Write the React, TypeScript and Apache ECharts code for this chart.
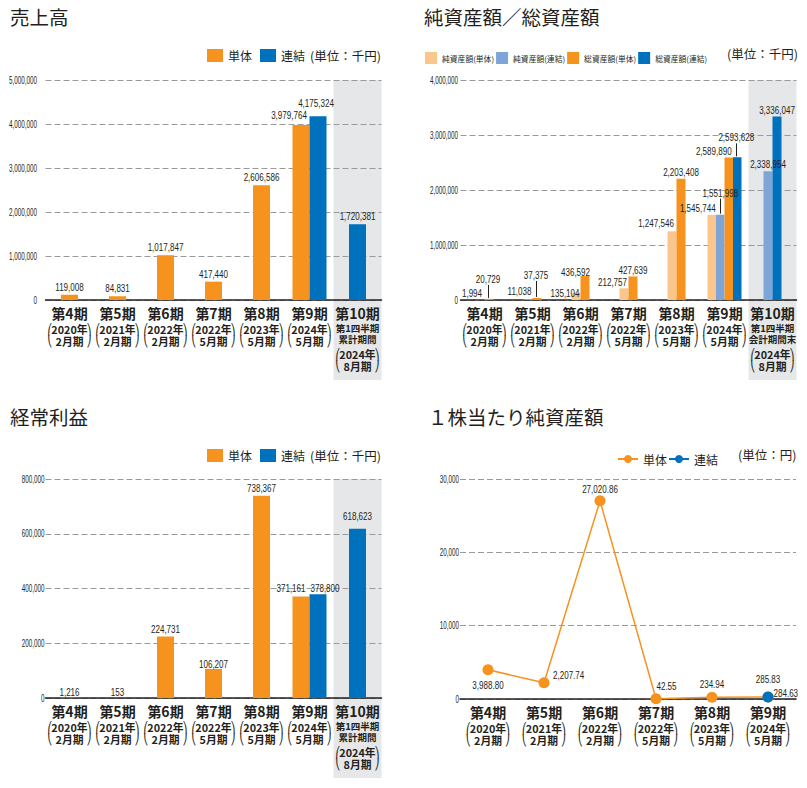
import React, { useEffect, useRef } from 'react';
import * as echarts from 'echarts';

// ---------------- data ----------------
const periods = ['第4期', '第5期', '第6期', '第7期', '第8期', '第9期', '第10期'];
const fiscalYears = ['2020年', '2021年', '2022年', '2022年', '2023年', '2024年', '2024年'];
const fiscalMonths = ['2月期', '2月期', '2月期', '5月期', '5月期', '5月期', '8月期'];
const quarterNoteFlow = ['第1四半期', '累計期間'];
const quarterNoteStock = ['第1四半期', '会計期間末'];

const salesSolo = [119008, 84831, 1017847, 417440, 2606586, 3979764, null];
const salesConsol = [null, null, null, null, null, 4175324, 1720381];

const ordinarySolo = [1216, 153, 224731, 106207, 738367, 371161, null];
const ordinaryConsol = [null, null, null, null, null, 378800, 618623];

const netAssetsSolo = [1994, 11038, 135104, 212757, 1247546, 1545744, null];
const netAssetsConsol = [null, null, null, null, null, 1551998, 2338954];
const totalAssetsSolo = [20729, 37375, 436592, 427639, 2203408, 2589890, null];
const totalAssetsConsol = [null, null, null, null, null, 2593628, 3336047];

const bpsPeriods = ['第4期', '第5期', '第6期', '第7期', '第8期', '第9期'];
const bpsSolo = [3988.8, 2207.74, 27020.86, 42.55, 234.94, 284.63];
const bpsConsol = [null, null, null, null, null, 285.83];

const salesTicks = [0, 1000000, 2000000, 3000000, 4000000, 5000000];
const ordinaryTicks = [0, 200000, 400000, 600000, 800000];
const assetsTicks = [0, 1000000, 2000000, 3000000, 4000000];
const bpsTicks = [0, 10000, 20000, 30000];

// ---------------- styles ----------------
const TEXT = '#231f20';
const ORANGE = '#f6921e';
const BLUE = '#0071bc';
const LIGHT_ORANGE = '#fbc68b';
const LIGHT_BLUE = '#7ea5d8';
const SHADE = '#e6e7e9';
const NUM_FONT = "'Liberation Sans', Arial, sans-serif";
const JP_FONT = "'Noto Sans CJK JP', sans-serif";
const BRACKET_FONT = "'DejaVu Sans', sans-serif";

const VALUE_SIZE = 11.5;
const VALUE_SCALE = 0.7;
const TICK_SIZE = 10.5;
const TICK_SCALE = 0.6;
const SYMBOL = 11;

const PLOT_L = { left: 45.5, width: 336 };
const PLOT_R = { left: 460.5, width: 336 };
const PLOT_BPS = { left: 460, width: 336 };
const BAR_W = 17;
const BAR_PAIR = 9;
const BAR_QUAD = 8.5;

type Adj = { dx?: number; dy?: number; lead?: number; pos?: string; dist?: number };

// label adjustments (styling only)
const salesAdj: Record<string, Record<number, Adj>> = {
  solo: { 5: { dx: -12, dy: -2 } },
  consol: { 5: { dx: -2, dy: -5 } },
};
const ordinaryAdj: Record<string, Record<number, Adj>> = {
  solo: { 0: { dy: 2 }, 1: { dy: 2 }, 3: { dy: 3 }, 5: { dx: -10 } },
  consol: { 5: { dx: 7, dy: 2 }, 6: { dy: -5 } },
};
const assetsAdj: Record<string, Record<number, Adj>> = {
  netSolo: { 0: { dx: -8 }, 1: { dx: -8.5, dy: -1 }, 2: { dx: -11, dy: 7 }, 3: { dx: -11.5, dy: 1 }, 4: { dx: -16, dy: -1 }, 5: { dx: -14 } },
  netConsol: { 5: { lead: 15 } },
  totalSolo: { 0: { lead: 13, dx: -1 }, 1: { lead: 16, dx: -1 }, 2: { dx: -9.5, dy: 3 }, 5: { dx: -15 } },
  totalConsol: { 5: { lead: 13, dx: -1 } },
};
const bpsAdj: Record<string, Record<number, Adj>> = {
  solo: {
    0: { pos: 'bottom', dist: 4 },
    1: { pos: 'right', dist: 3.5, dy: -8 },
    2: { dist: 0 },
    3: { dist: 1, dx: 10.5 },
    4: { dist: 2 },
    5: { pos: 'right', dist: 0, dy: -4 },
  },
  consol: { 5: { dist: 6 } },
};

const fmtInt = (v: number) => v.toLocaleString('en-US');
const fmtDec = (v: number) => v.toLocaleString('en-US', { minimumFractionDigits: 2, maximumFractionDigits: 2 });

type Entry = {
  cat: number;
  value: number;
  text: string;
  kind: 'bar' | 'point' | 'tick';
  slot: number;
  dx: number;
  dy: number;
  lead: number;
  pos: string;
  dist: number;
};

function entry(cat: number, value: number, text: string, kind: Entry['kind'], slot: number, a: Adj, defDist: number): Entry {
  return {
    cat,
    value,
    text,
    kind,
    slot,
    dx: a.dx || 0,
    dy: a.dy || 0,
    lead: a.lead || 0,
    pos: a.pos || 'top',
    dist: a.dist == null ? defDist : a.dist,
  };
}

function tickEntries(ticks: number[], margin: number): Entry[] {
  return ticks.map((t) => entry(0, t, fmtInt(t), 'tick', 0, { dx: -margin }, 0));
}

// custom series that writes texts at positions given by the axes' scales
function textLayer(entries: Entry[]) {
  return {
    type: 'custom',
    coordinateSystem: 'cartesian2d',
    xAxisIndex: 0,
    yAxisIndex: 0,
    silent: true,
    z: 10,
    clip: false,
    data: entries.map((e) => [e.cat, e.value]),
    renderItem: (params: any, api: any) => {
      const e = entries[params.dataIndex];
      const p = api.coord([api.value(0), api.value(1)]);
      const children: any[] = [];
      let x = p[0] + e.slot + e.dx;
      let y = p[1];
      let align = 'center';
      let size = VALUE_SIZE;
      let scale = VALUE_SCALE;
      if (e.kind === 'tick') {
        const band = api.size([1, 0])[0];
        x = p[0] - band / 2 + e.dx;
        align = 'right';
        size = TICK_SIZE;
        scale = TICK_SCALE;
      } else if (e.kind === 'bar') {
        if (e.lead) {
          const lx = Math.round(x) + 0.5;
          children.push({
            type: 'line',
            shape: { x1: lx, y1: p[1] - 1, x2: lx, y2: p[1] - 1 - e.lead },
            style: { stroke: TEXT, lineWidth: 1 },
          });
          y = p[1] - 1 - e.lead - 6 + e.dy;
        } else {
          y = p[1] - e.dist - 6 + e.dy;
        }
      } else {
        const r = SYMBOL / 2;
        if (e.pos === 'bottom') y = p[1] + r + e.dist + 6 + e.dy;
        else if (e.pos === 'right') {
          x = p[0] + r + e.dist + e.dx;
          y = p[1] + e.dy;
          align = 'left';
        } else y = p[1] - r - e.dist - 6 + e.dy;
      }
      children.push({
        type: 'text',
        x,
        y,
        scaleX: scale,
        style: {
          text: e.text,
          fontSize: size,
          fontFamily: NUM_FONT,
          fill: TEXT,
          align,
          verticalAlign: 'middle',
        },
      });
      return { type: 'group', children };
    },
  };
}

function xAxisLabel(note: string[] | null) {
  return {
    interval: 0,
    margin: 3,
    color: TEXT,
    formatter: (value: string, idx: number) => {
      const rows = [`{h|${value}}`];
      if (note && idx === periods.length - 1) {
        note.forEach((n) => rows.push(`{s|${n}}`));
        rows.push('{sp| }');
      }
      rows.push(`{b|⎛}{t|${fiscalYears[idx]}}{b|⎞}`);
      rows.push(`{b|⎝}{t|${fiscalMonths[idx]}}{b|⎠}`);
      return rows.join('\n');
    },
    rich: {
      h: { fontFamily: JP_FONT, fontSize: 14, fontWeight: 'bold', lineHeight: 20, color: TEXT },
      t: { fontFamily: JP_FONT, fontSize: 10.8, fontWeight: 'bold', lineHeight: 12, width: 34, color: TEXT },
      b: { fontFamily: BRACKET_FONT, fontSize: 10.5, lineHeight: 12, color: TEXT },
      s: { fontFamily: JP_FONT, fontSize: 9.5, fontWeight: 'bold', lineHeight: 10.5, color: TEXT },
      sp: { fontSize: 4, lineHeight: 4 },
    },
  };
}

function categoryAxis(data: string[], note: string[] | null) {
  return {
    type: 'category',
    gridIndex: 0,
    data,
    axisLine: { show: true, lineStyle: { color: TEXT, width: 1.5 } },
    axisTick: { show: false },
    axisLabel: xAxisLabel(note),
  };
}

function valueAxis(ticks: number[]) {
  return {
    type: 'value',
    gridIndex: 0,
    min: ticks[0],
    max: ticks[ticks.length - 1],
    interval: ticks[1] - ticks[0],
    axisLine: { show: false },
    axisTick: { show: false },
    splitLine: { show: true, lineStyle: { color: '#9a9a9a', type: [6, 3], width: 1 } },
    axisLabel: { show: false },
  };
}

function titleOpt(text: string, left: number, top: number) {
  return {
    text,
    left,
    top,
    padding: 0,
    textStyle: { fontSize: 19.5, fontWeight: 'normal', fontFamily: JP_FONT, color: TEXT },
  };
}

function unitText(text: string, x: number, y: number, size = 12.5) {
  return {
    type: 'text',
    x,
    y,
    style: { text, fontSize: size, fontFamily: JP_FONT, fill: TEXT, align: 'left', verticalAlign: 'middle' },
  };
}

function shadeRect(plot: { left: number; width: number }, top: number, bottom: number) {
  const band = plot.width / periods.length;
  return {
    type: 'rect',
    z: -10,
    shape: { x: plot.left + band * (periods.length - 1), y: top, width: band, height: bottom - top },
    style: { fill: SHADE },
  };
}

const both = (a: (number | null)[], b: (number | null)[], i: number) => a[i] != null && b[i] != null;
const soloOnly = (a: (number | null)[], b: (number | null)[]) => a.map((v, i) => (both(a, b, i) ? null : v));
const pairOnly = (a: (number | null)[], b: (number | null)[]) => a.map((v, i) => (both(a, b, i) ? v : null));

function twoBarOption(cfg: {
  title: string;
  top: number;
  solo: (number | null)[];
  consol: (number | null)[];
  ticks: number[];
  adj: Record<string, Record<number, Adj>>;
  tickMargin: number;
  plotTop: number;
  plotHeight: number;
  shadeBottom: number;
}) {
  const { solo, consol, adj } = cfg;
  const common = { type: 'bar', yAxisIndex: 0, barWidth: BAR_W, label: { show: false } };
  const labels: Entry[] = [];
  solo.forEach((v, i) => {
    if (v != null) labels.push(entry(i, v, fmtInt(v), 'bar', both(solo, consol, i) ? -BAR_W / 2 : 0, adj.solo[i] || {}, 2));
  });
  consol.forEach((v, i) => {
    if (v != null) labels.push(entry(i, v, fmtInt(v), 'bar', both(solo, consol, i) ? BAR_W / 2 : 0, adj.consol[i] || {}, 2));
  });
  return {
    animation: false,
    title: titleOpt(cfg.title, 10, cfg.top + 7),
    legend: {
      data: ['単体', '連結'],
      left: 202,
      top: cfg.top + 44,
      icon: 'rect',
      itemWidth: 16,
      itemHeight: 13,
      itemGap: 8,
      textStyle: { fontSize: 12, fontFamily: JP_FONT, color: TEXT },
    },
    grid: { left: PLOT_L.left, width: PLOT_L.width, top: cfg.plotTop, height: cfg.plotHeight },
    xAxis: [categoryAxis(periods, quarterNoteFlow), { type: 'category', gridIndex: 0, data: periods, show: false }],
    yAxis: [valueAxis(cfg.ticks)],
    graphic: [shadeRect(PLOT_L, cfg.plotTop, cfg.shadeBottom), unitText('(単位：千円)', 310, cfg.top + 55)],
    series: [
      { ...common, name: '単体', xAxisIndex: 0, stack: 'solo', color: ORANGE, data: soloOnly(solo, consol) },
      { ...common, name: '連結', xAxisIndex: 0, stack: 'solo', color: BLUE, data: soloOnly(consol, solo) },
      { ...common, name: '単体', xAxisIndex: 1, barGap: 0, color: ORANGE, data: pairOnly(solo, consol) },
      { ...common, name: '連結', xAxisIndex: 1, barGap: 0, color: BLUE, data: pairOnly(consol, solo) },
      textLayer([...labels, ...tickEntries(cfg.ticks, cfg.tickMargin)]),
    ],
  };
}

const salesOption = twoBarOption({
  title: '売上高',
  top: 0,
  solo: salesSolo,
  consol: salesConsol,
  ticks: salesTicks,
  adj: salesAdj,
  tickMargin: 8.5,
  plotTop: 80,
  plotHeight: 220,
  shadeBottom: 380,
});

const ordinaryOption = twoBarOption({
  title: '経常利益',
  top: 400,
  solo: ordinarySolo,
  consol: ordinaryConsol,
  ticks: ordinaryTicks,
  adj: ordinaryAdj,
  tickMargin: 1,
  plotTop: 479,
  plotHeight: 219,
  shadeBottom: 778,
});

// assets panel
const assetSeriesDefs = [
  { name: '純資産額(単体)', key: 'netSolo', values: netAssetsSolo, color: LIGHT_ORANGE, stack: 'net' },
  { name: '純資産額(連結)', key: 'netConsol', values: netAssetsConsol, color: LIGHT_BLUE, stack: 'net' },
  { name: '総資産額(単体)', key: 'totalSolo', values: totalAssetsSolo, color: ORANGE, stack: 'tot' },
  { name: '総資産額(連結)', key: 'totalConsol', values: totalAssetsConsol, color: BLUE, stack: 'tot' },
];
const allPresent = (i: number) => assetSeriesDefs.every((d) => d.values[i] != null);

const assetLabels: Entry[] = [];
assetSeriesDefs.forEach((d, k) => {
  d.values.forEach((v, i) => {
    if (v == null) return;
    const slot = allPresent(i) ? (k - 1.5) * BAR_QUAD : d.stack === 'net' ? -BAR_PAIR / 2 : BAR_PAIR / 2;
    assetLabels.push(entry(i, v, fmtInt(v), 'bar', slot, assetsAdj[d.key][i] || {}, 1));
  });
});

const assetsOption = {
  animation: false,
  title: titleOpt('純資産額／総資産額', 424, 7),
  legend: {
    data: assetSeriesDefs.map((d) => d.name),
    left: 420,
    top: 47,
    icon: 'rect',
    itemWidth: 12,
    itemHeight: 12,
    itemGap: 2,
    textStyle: { fontSize: 7.8, fontFamily: JP_FONT, color: TEXT },
  },
  grid: { left: PLOT_R.left, width: PLOT_R.width, top: 80, height: 220 },
  xAxis: [categoryAxis(periods, quarterNoteStock), { type: 'category', gridIndex: 0, data: periods, show: false }],
  yAxis: [valueAxis(assetsTicks)],
  graphic: [shadeRect(PLOT_R, 80, 380), unitText('(単位：千円)', 727, 53)],
  series: [
    ...assetSeriesDefs.map((d) => ({
      type: 'bar',
      name: d.name,
      xAxisIndex: 0,
      yAxisIndex: 0,
      stack: d.stack,
      barWidth: BAR_PAIR,
      barGap: 0,
      color: d.color,
      data: d.values.map((v, i) => (allPresent(i) ? null : v)),
    })),
    ...assetSeriesDefs.map((d) => ({
      type: 'bar',
      name: d.name,
      xAxisIndex: 1,
      yAxisIndex: 0,
      barWidth: BAR_QUAD,
      barGap: 0,
      color: d.color,
      data: d.values.map((v, i) => (allPresent(i) ? v : null)),
    })),
    textLayer([...assetLabels, ...tickEntries(assetsTicks, 2.5)]),
  ],
};

const bpsLabels: Entry[] = [];
bpsSolo.forEach((v, i) => {
  if (v != null) bpsLabels.push(entry(i, v, fmtDec(v), 'point', 0, bpsAdj.solo[i] || {}, 2));
});
bpsConsol.forEach((v, i) => {
  if (v != null) bpsLabels.push(entry(i, v, fmtDec(v), 'point', 0, bpsAdj.consol[i] || {}, 2));
});

const bpsOption = {
  animation: false,
  title: titleOpt('１株当たり純資産額', 428, 407),
  legend: {
    data: ['単体', '連結'],
    left: 612,
    top: 448,
    itemWidth: 20,
    itemHeight: 10,
    itemGap: 1,
    textStyle: { fontSize: 12, fontFamily: JP_FONT, color: TEXT },
  },
  grid: { left: PLOT_BPS.left, width: PLOT_BPS.width, top: 479, height: 220 },
  xAxis: [categoryAxis(bpsPeriods, null)],
  yAxis: [valueAxis(bpsTicks)],
  graphic: [unitText('(単位：円)', 738, 454)],
  series: [
    {
      type: 'line',
      name: '単体',
      color: ORANGE,
      symbol: 'circle',
      symbolSize: SYMBOL,
      lineStyle: { width: 1.5, color: ORANGE },
      data: bpsSolo,
    },
    {
      type: 'line',
      name: '連結',
      color: BLUE,
      symbol: 'circle',
      symbolSize: SYMBOL,
      lineStyle: { width: 1.5, color: BLUE },
      data: bpsConsol,
    },
    textLayer([...bpsLabels, ...tickEntries(bpsTicks, 1)]),
  ],
};

function Chart({ option }: { option: any }) {
  const ref = useRef<HTMLDivElement>(null);
  useEffect(() => {
    const chart = echarts.init(ref.current as HTMLDivElement, null, { renderer: 'svg' });
    chart.setOption(option);
    return () => chart.dispose();
  }, [option]);
  return <div ref={ref} style={{ position: 'absolute', left: 0, top: 0, width: 807, height: 788 }} />;
}

export default function App() {
  return (
    <div style={{ position: 'fixed', left: 0, top: 0, width: 807, height: 788, background: '#fff', overflow: 'hidden' }}>
      <Chart option={salesOption} />
      <Chart option={assetsOption} />
      <Chart option={ordinaryOption} />
      <Chart option={bpsOption} />
    </div>
  );
}
